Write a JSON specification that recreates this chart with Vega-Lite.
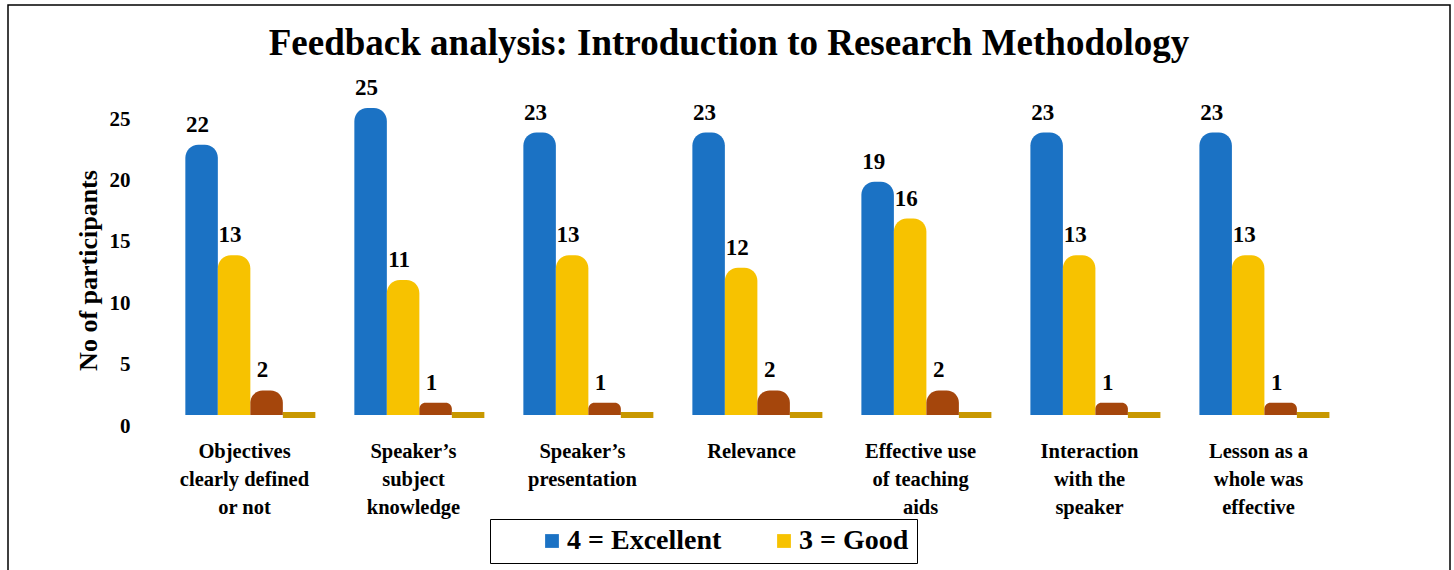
{
  "$schema": "https://vega.github.io/schema/vega-lite/v6.json",
  "autosize": {"type": "none"},
  "width": 1442,
  "height": 570,
  "padding": {"left": 8, "top": 5, "right": 4, "bottom": 0},
  "background": "white",
  "title": {
    "text": "Feedback analysis: Introduction to Research Methodology",
    "font": "Liberation Serif",
    "fontSize": 37,
    "fontWeight": "bold",
    "color": "black",
    "anchor": "middle",
    "baseline": "middle",
    "offset": -76
  },
  "config": {
    "view": {"stroke": "black", "strokeWidth": 1.5},
    "axis": {"labelFont": "Liberation Serif", "titleFont": "Liberation Serif", "labelColor": "black", "titleColor": "black"}
  },
  "data": {
    "values": [
      {"category": "Objectives clearly defined or not", "series": "4 = Excellent", "value": 22},
      {"category": "Objectives clearly defined or not", "series": "3 = Good", "value": 13},
      {"category": "Objectives clearly defined or not", "series": "2 = Average", "value": 2},
      {"category": "Objectives clearly defined or not", "series": "1 = Poor", "value": 0},
      {"category": "Speaker’s subject knowledge", "series": "4 = Excellent", "value": 25},
      {"category": "Speaker’s subject knowledge", "series": "3 = Good", "value": 11},
      {"category": "Speaker’s subject knowledge", "series": "2 = Average", "value": 1},
      {"category": "Speaker’s subject knowledge", "series": "1 = Poor", "value": 0},
      {"category": "Speaker’s presentation", "series": "4 = Excellent", "value": 23},
      {"category": "Speaker’s presentation", "series": "3 = Good", "value": 13},
      {"category": "Speaker’s presentation", "series": "2 = Average", "value": 1},
      {"category": "Speaker’s presentation", "series": "1 = Poor", "value": 0},
      {"category": "Relevance", "series": "4 = Excellent", "value": 23},
      {"category": "Relevance", "series": "3 = Good", "value": 12},
      {"category": "Relevance", "series": "2 = Average", "value": 2},
      {"category": "Relevance", "series": "1 = Poor", "value": 0},
      {"category": "Effective use of teaching aids", "series": "4 = Excellent", "value": 19},
      {"category": "Effective use of teaching aids", "series": "3 = Good", "value": 16},
      {"category": "Effective use of teaching aids", "series": "2 = Average", "value": 2},
      {"category": "Effective use of teaching aids", "series": "1 = Poor", "value": 0},
      {"category": "Interaction with the speaker", "series": "4 = Excellent", "value": 23},
      {"category": "Interaction with the speaker", "series": "3 = Good", "value": 13},
      {"category": "Interaction with the speaker", "series": "2 = Average", "value": 1},
      {"category": "Interaction with the speaker", "series": "1 = Poor", "value": 0},
      {"category": "Lesson as a whole was effective", "series": "4 = Excellent", "value": 23},
      {"category": "Lesson as a whole was effective", "series": "3 = Good", "value": 13},
      {"category": "Lesson as a whole was effective", "series": "2 = Average", "value": 1},
      {"category": "Lesson as a whole was effective", "series": "1 = Poor", "value": 0}
    ]
  },
  "encoding": {
    "x": {
      "field": "category",
      "type": "nominal",
      "sort": null,
      "scale": {"paddingInner": 0, "paddingOuter": 0.766, "align": 0.587},
      "axis": {
        "title": null,
        "orient": "bottom",
        "offset": -138,
        "domain": false,
        "ticks": false,
        "labelAngle": 0,
        "labelFontSize": 20.5,
        "labelFontWeight": "bold",
        "labelLineHeight": 28,
        "labelBaseline": "top",
        "labelPadding": 4,
        "labelLimit": 0,
        "labelExpr": "{'Objectives clearly defined or not': ['Objectives', 'clearly defined', 'or not'], 'Speaker’s subject knowledge': ['Speaker’s', 'subject', 'knowledge'], 'Speaker’s presentation': ['Speaker’s', 'presentation'], 'Relevance': ['Relevance'], 'Effective use of teaching aids': ['Effective use', 'of teaching', 'aids'], 'Interaction with the speaker': ['Interaction', 'with the', 'speaker'], 'Lesson as a whole was effective': ['Lesson as a', 'whole was', 'effective']}[datum.label]"
      }
    },
    "xOffset": {
      "field": "series",
      "type": "nominal",
      "sort": ["4 = Excellent", "3 = Good", "2 = Average", "1 = Poor"],
      "scale": {"paddingInner": 0, "paddingOuter": 0.6, "align": 0.65}
    },
    "y": {
      "field": "value",
      "type": "quantitative",
      "scale": {"domain": [-13.03, 33.39], "nice": false, "zero": false},
      "axis": {
        "title": "No of participants",
        "titleFontSize": 26,
        "titleFontWeight": "bold",
        "titlePadding": 8,
        "titleY": 265,
        "values": [0, 5, 10, 15, 20, 25],
        "offset": -132,
        "domain": false,
        "ticks": false,
        "grid": false,
        "labelFontSize": 21,
        "labelFontWeight": "bold",
        "labelPadding": 10,
        "labelOffset": 11
      }
    }
  },
  "layer": [
    {
      "mark": {"type": "bar", "cornerRadiusTopLeft": 13, "cornerRadiusTopRight": 13, "stroke": "#c89800"},
      "encoding": {
        "y2": {"datum": 0},
        "color": {
          "field": "series",
          "type": "nominal",
          "sort": ["4 = Excellent", "3 = Good", "2 = Average", "1 = Poor"],
          "scale": {
            "domain": ["4 = Excellent", "3 = Good", "2 = Average", "1 = Poor"],
            "range": ["#1b72c4", "#f7c200", "#a5460c", "#c89800"]
          },
          "legend": {
            "values": ["4 = Excellent", "3 = Good"],
            "orient": "none",
            "legendX": 482,
            "legendY": 514,
            "direction": "horizontal",
            "title": null,
            "strokeColor": "black",
            "padding": 8,
            "symbolOffset": 40,
            "labelFont": "Liberation Serif",
            "labelFontSize": 28,
            "labelFontWeight": "bold",
            "labelColor": "black",
            "labelOffset": 1,
            "symbolType": "square",
            "symbolSize": 190,
            "symbolStrokeWidth": 0,
            "columnPadding": 8
          }
        },
        "strokeWidth": {"condition": {"test": "datum.value == 0", "value": 6}, "value": 0}
      }
    },
    {
      "transform": [{"filter": "datum.value > 0"}],
      "mark": {
        "type": "text",
        "baseline": "bottom",
        "dy": -8,
        "dx": -4,
        "font": "Liberation Serif",
        "fontSize": 23,
        "fontWeight": "bold",
        "color": "black"
      },
      "encoding": {
        "text": {"field": "value", "type": "quantitative"}
      }
    }
  ]
}
